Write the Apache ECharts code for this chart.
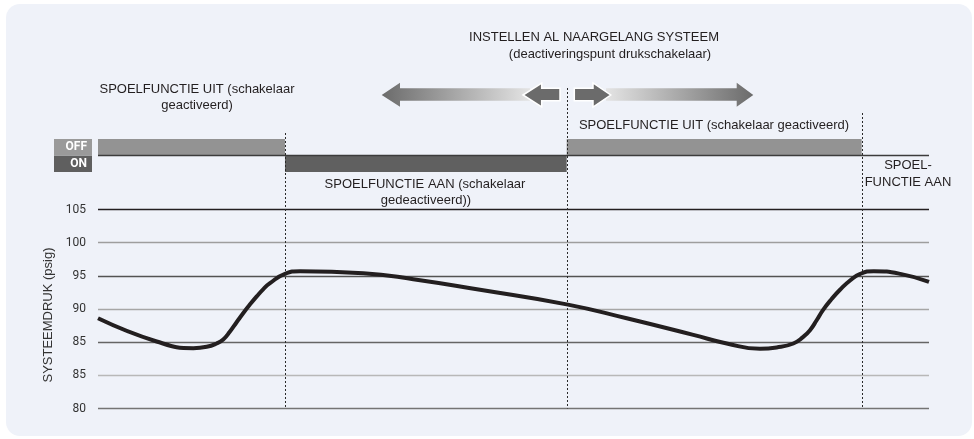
<!DOCTYPE html>
<html>
<head>
<meta charset="utf-8">
<script src="https://cdn.jsdelivr.net/npm/echarts@6/dist/echarts.min.js"></script>
<style>
html,body{margin:0;padding:0;background:#ffffff;}
#chart{width:974px;height:439px;}
</style>
</head>
<body>
<div id="chart"></div>
<script>
// ---- data ----
const pressureTime = [0, 7.06, 11.47, 13.08, 14.28, 15.07, 15.88, 16.68, 17.49, 18.30, 19.10, 19.90, 20.70, 22.5, 24.31, 31.93, 37.94, 45.97, 56.40, 63.62, 71.64, 75.66, 79.66, 81.67, 83.67, 84.87, 85.68, 86.48, 87.28, 88.28, 89.29, 90.50, 91.73, 93.35, 96.55, 100];
const pressure     = [88.6, 85.1, 84.1, 84.3, 84.8, 85.4, 86.6, 88.0, 89.4, 90.7, 91.9, 93.0, 93.9, 95.3, 95.7, 95.4, 94.5, 92.9, 90.7, 88.6, 86.1, 84.8, 84.0, 84.2, 84.8, 85.8, 86.8, 88.3, 89.9, 91.5, 92.9, 94.3, 95.3, 95.7, 95.3, 94.1];
const yTickValues  = [75, 80, 85, 90, 95, 100, 105];
const yTickLabels  = ['80', '85', '85', '90', '95', '100', '105'];
const stateCategories = ['ON', 'OFF'];
const segmentStart = [0, 22.5, 56.4];
const segmentEnd   = [22.5, 56.4, 91.9];
const segmentState = ['OFF', 'ON', 'OFF'];
const dividerTimes = [22.5, 56.4, 91.9];
const yAxisTitle = 'SYSTEEMDRUK (psig)';

// ---- styles ----
const dividerTopPx = [133, 88, 113];
const gridColors = ['#747474', '#b8b8b8', '#656565', '#a6a6a6', '#535353', '#9e9e9e', '#231f20'];
const FONT = '"Liberation Sans", Arial, sans-serif';
const txtColor = '#231f20';

const chart = echarts.init(document.getElementById('chart'), null, {renderer: 'canvas'});

function txt(text, x, y) {
  return {type: 'text', z: 20, style: {text: text, x: x, y: y, fill: txtColor,
    font: '13px ' + FONT, textAlign: 'center', textVerticalAlign: 'middle'}};
}
function grad(c0, c1) {
  return {type: 'linear', x: 0, y: 0, x2: 1, y2: 0, global: false,
    colorStops: [{offset: 0, color: c0}, {offset: 1, color: c1}]};
}
const dark = '#6b6b6b', light = '#e4e4e4';

const option = {
  animation: false,
  backgroundColor: '#ffffff',
  graphic: {elements: [
    {type: 'rect', z: -10, shape: {x: 6, y: 4, width: 966, height: 432, r: 14}, style: {fill: '#eff2f9'}},
    txt('SPOELFUNCTIE UIT (schakelaar', 197, 89),
    txt('geactiveerd)', 197, 105),
    txt('INSTELLEN AL NAARGELANG SYSTEEM', 594, 37),
    txt('(deactiveringspunt drukschakelaar)', 610, 54),
    txt('SPOELFUNCTIE UIT (schakelaar geactiveerd)', 714, 125),
    txt('SPOELFUNCTIE AAN (schakelaar', 425, 184),
    txt('gedeactiveerd))', 426, 200),
    txt('SPOEL-', 908, 165),
    txt('FUNCTIE AAN', 908, 182),
    {type: 'polygon', z: 10, shape: {points: [[381.7,95],[400,82.7],[400,88.3],[530,88.3],[530,100.7],[400,100.7],[400,106.7]]}, style: {fill: grad(dark, light)}},
    {type: 'polygon', z: 10, shape: {points: [[606,88.3],[736.7,88.3],[736.7,82.7],[753.3,95],[736.7,106.7],[736.7,100.7],[606,100.7]]}, style: {fill: grad(light, dark)}},
    {type: 'polygon', z: 11, shape: {points: [[523,95],[541.7,83],[541.7,88.3],[560,88.3],[560,100.7],[541.7,100.7],[541.7,107]]}, style: {fill: dark, stroke: '#ffffff', lineWidth: 1.5}},
    {type: 'polygon', z: 11, shape: {points: [[574.3,88.3],[593,88.3],[593,83],[610.7,95],[593,107],[593,100.7],[574.3,100.7]]}, style: {fill: dark, stroke: '#ffffff', lineWidth: 1.5}}
  ]},
  grid: [
    {left: 98, right: 45, top: 209.5, bottom: 30.5},
    {left: 98, right: 45, top: 139, height: 33}
  ],
  xAxis: [
    {type: 'value', gridIndex: 0, min: 0, max: 100, show: false},
    {type: 'value', gridIndex: 1, min: 0, max: 100, show: false}
  ],
  yAxis: [
    {type: 'value', gridIndex: 0, min: yTickValues[0], max: yTickValues[yTickValues.length - 1], interval: 5,
      axisLine: {show: false}, axisTick: {show: false},
      axisLabel: {margin: 12, color: '#333', fontFamily: 'Roboto', fontSize: 12,
        formatter: v => yTickLabels[yTickValues.indexOf(v)]},
      splitLine: {show: true, showMinLine: true, showMaxLine: true, lineStyle: {color: gridColors, width: 1.3}},
      name: yAxisTitle, nameLocation: 'middle', nameRotate: 90, nameGap: 43,
      nameTextStyle: {color: '#333', fontFamily: FONT, fontSize: 13, padding: [0, 12, 0, 0]}
    },
    {type: 'category', gridIndex: 1, data: stateCategories,
      axisLine: {show: false}, axisTick: {show: false}, splitLine: {show: false},
      axisLabel: {margin: 6, formatter: v => (v === 'OFF' ? '{off|OFF}' : '{on|ON}'),
        rich: {
          off: {backgroundColor: '#9a9a9a', color: '#fff', fontWeight: 'bold', fontFamily: 'Roboto', fontSize: 12,
            width: 29, height: 16.5, lineHeight: 16.5, align: 'right', padding: [0, 5, 0, 4]},
          on: {backgroundColor: '#5f5f5f', color: '#fff', fontWeight: 'bold', fontFamily: 'Roboto', fontSize: 12,
            width: 29, height: 16.5, lineHeight: 16.5, align: 'right', padding: [0, 5, 0, 4]}
        }}
    }
  ],
  series: [
    {
      type: 'custom', xAxisIndex: 1, yAxisIndex: 1, z: 2, clip: false,
      data: segmentStart.map((s, i) => [s, segmentEnd[i]]),
      renderItem: function (params, api) {
        const i = params.dataIndex;
        const cat = stateCategories.indexOf(segmentState[i]);
        const p0 = api.coord([segmentStart[i], cat]);
        const p1 = api.coord([segmentEnd[i], cat]);
        const bh = api.size([0, 1])[1];
        return {type: 'rect', shape: {x: p0[0], y: p0[1] - bh / 2, width: p1[0] - p0[0], height: bh},
          style: {fill: segmentState[i] === 'OFF' ? '#939393' : '#606060'}};
      }
    },
    {
      type: 'custom', xAxisIndex: 1, yAxisIndex: 1, z: 3, clip: false,
      data: [[0, 100]],
      renderItem: function (params, api) {
        const a = api.coord([api.value(0), 0]);
        const b = api.coord([api.value(1), 0]);
        const bh = api.size([0, 1])[1];
        const y = a[1] - bh / 2;
        return {type: 'line', shape: {x1: a[0], y1: y, x2: b[0], y2: y}, style: {stroke: '#3c3c3c', lineWidth: 1.5}};
      }
    },
    {
      type: 'custom', xAxisIndex: 0, yAxisIndex: 0, z: 4, clip: false,
      data: dividerTimes.map(t => [t, yTickValues[0]]),
      renderItem: function (params, api) {
        const p = api.coord([api.value(0), api.value(1)]);
        const x = Math.round(p[0]) + 0.5;
        return {type: 'line', shape: {x1: x, y1: dividerTopPx[params.dataIndex], x2: x, y2: p[1]},
          style: {stroke: '#2a2a2a', lineWidth: 1, lineDash: [2, 2]}};
      }
    },
    {
      type: 'line', xAxisIndex: 0, yAxisIndex: 0, z: 5,
      data: pressureTime.map((t, i) => [t, pressure[i]]),
      smooth: 0.5, symbol: 'none',
      lineStyle: {color: '#231f20', width: 4}
    }
  ]
};
chart.setOption(option);
</script>
</body>
</html>
